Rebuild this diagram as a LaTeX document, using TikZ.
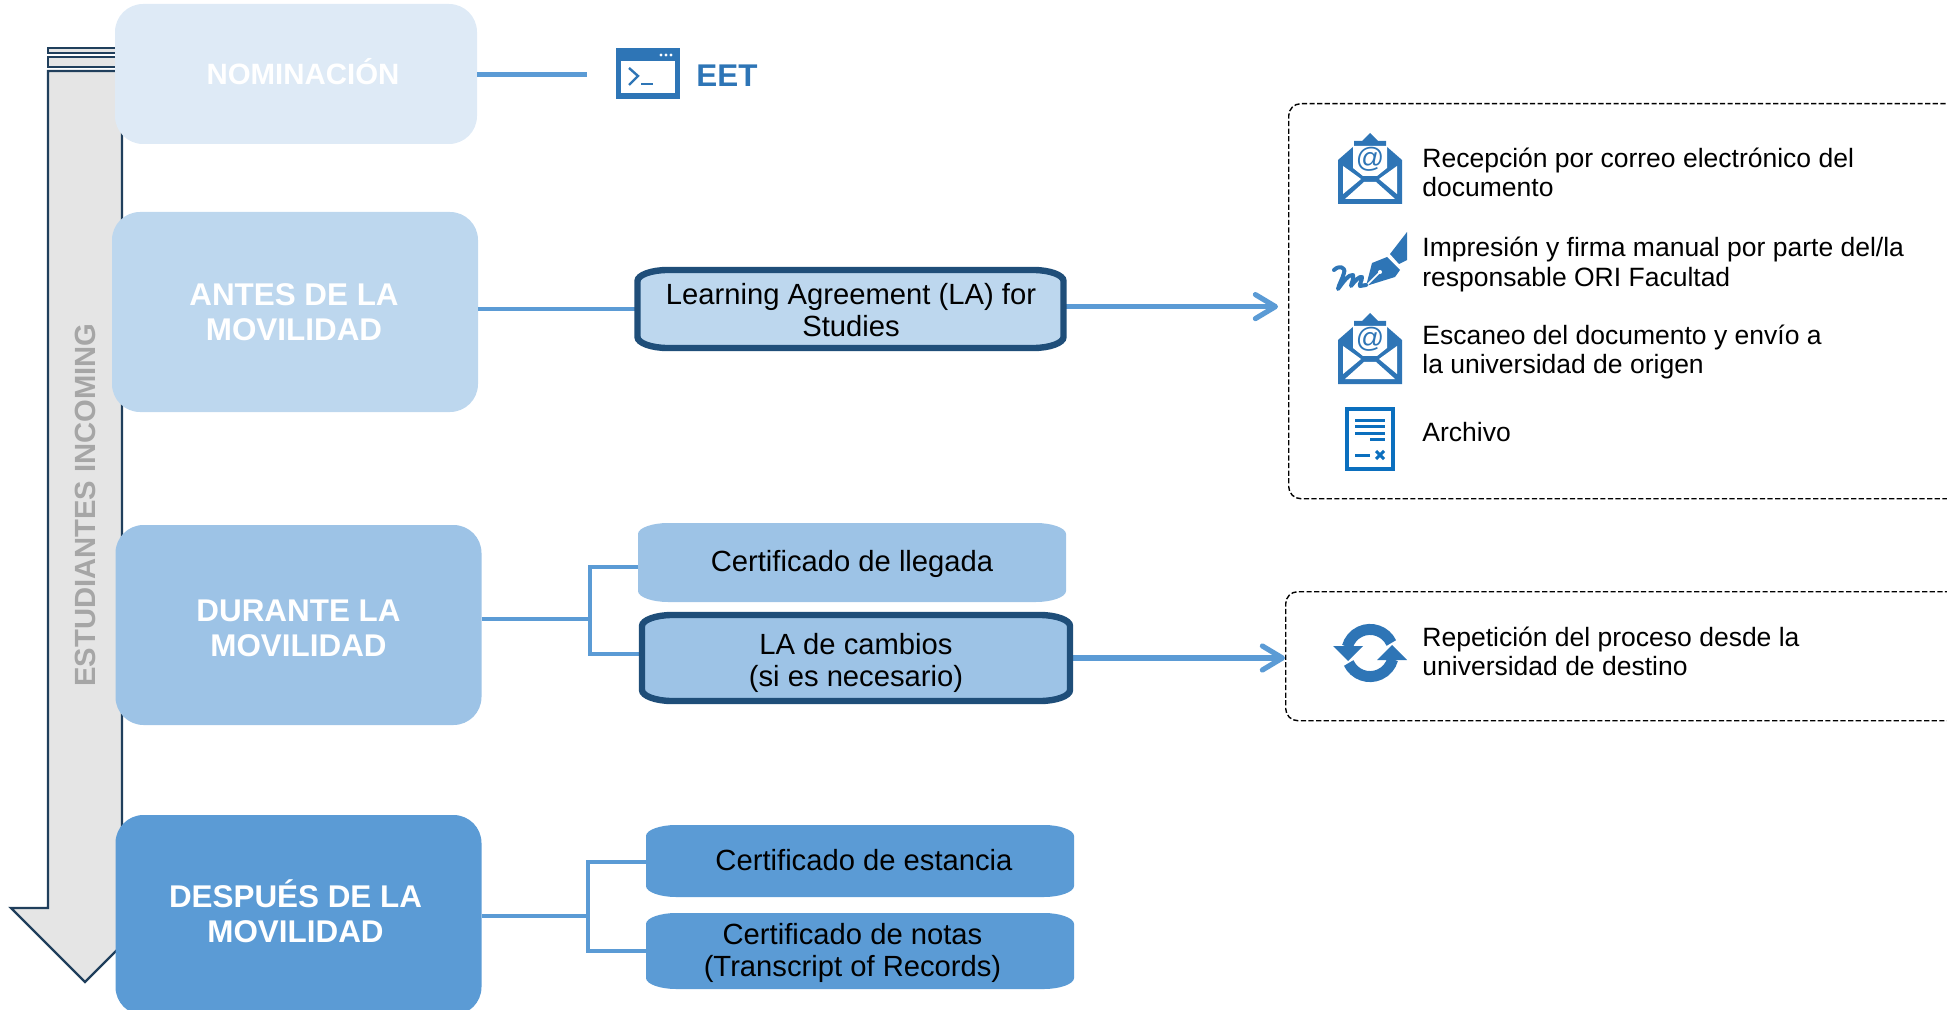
\documentclass[tikz,border=0pt]{standalone}
\usepackage{fontspec}
\setsansfont{Liberation Sans}
\usetikzlibrary{arrows.meta}
\definecolor{azulnom}{HTML}{DEEAF6}
\definecolor{azulantes}{HTML}{BDD7EE}
\definecolor{azuldur}{HTML}{9DC3E6}
\definecolor{azuldes}{HTML}{5B9BD5}
\definecolor{azulicono}{HTML}{2E75B6}
\definecolor{azularchivo}{HTML}{0B6FBE}
\definecolor{marino}{HTML}{1F4E79}
\definecolor{pizarra}{HTML}{203F5C}
\newcommand{\cajaoval}[2]{\path[#2] ([xshift=15pt]#1.north west) -- ([xshift=-15pt]#1.north east) .. controls +(16,0) and +(0,-6) .. ([yshift=-5.5pt]#1.north east) -- ([yshift=5.5pt]#1.south east) .. controls +(0,6) and +(16,0) .. ([xshift=-15pt]#1.south east) -- ([xshift=15pt]#1.south west) .. controls +(-16,0) and +(0,6) .. ([yshift=5.5pt]#1.south west) -- ([yshift=-5.5pt]#1.north west) .. controls +(0,-6) and +(-16,0) .. ([xshift=15pt]#1.north west) -- cycle;}
\tikzset{
    correo/.pic={
        \fill[azulicono] (32,0) -- (40,8) -- (48,8) -- (48,13) -- (64,27) -- (64,71) -- (0,71) -- (0,27) -- (16,13) -- (16,8) -- (24,8) -- cycle;
        \fill[white] (15,13) -- (49,13) -- (49,35) -- (39,43) -- (25,43) -- (15,35) -- cycle;
        \fill[white] (5,33) -- (23,46) -- (5,61) -- cycle;
        \fill[white] (59,33) -- (41,46) -- (59,61) -- cycle;
        \fill[white] (7,66) -- (26,49) -- (38,49) -- (57,66) -- cycle;
        \node[text=azulicono, font=\sffamily\fontsize{14}{14}\selectfont, inner sep=0pt] (-arroba) at (32,26) {@};
    },
    firma/.pic={
        \fill[azulicono] (74,0) -- (74,28) -- (66,32) -- (57,22) -- cycle;
        \fill[azulicono] (54,25) -- (67,38) -- (62,45) -- (33,54) -- (39,31) -- cycle;
        \draw[white, line width=0.8pt] (34,53) -- (47,40);
        \fill[white] (47,40) circle (2);
        \draw[azulicono, line width=2pt, line cap=round, line join=round] (1,38) .. controls (6,33) and (13,35) .. (11,41) .. controls (9,48) and (6,52) .. (5,57) .. controls (10,50) and (16,42) .. (20,43) .. controls (21,47) and (18,52) .. (18,54) .. controls (22,49) and (26,44) .. (29,45) .. controls (29,49) and (26,52) .. (27,54) -- (33,53);
    },
    archivo/.pic={
        \fill[azularchivo] (0,0) rectangle (50,64);
        \fill[white] (4,4) rectangle (46,60);
        \foreach \y in {13,19,26} \fill[azularchivo] (10,\y-1.5) rectangle (40,\y+1.5);
        \fill[azularchivo] (25,30.5) rectangle (40,33.5);
        \fill[azularchivo] (10,46.5) rectangle (25,49.5);
        \draw[azularchivo, line width=1.5pt] (31,44) -- (39,52) (39,44) -- (31,52);
    },
    repetir/.pic={
        \draw[azulicono, line width=5.5pt] (21.3,-10) arc[start angle=-25, end angle=-165, radius=23.5];
        \fill[azulicono] (-37,-7) -- (-7,-7) -- (-22,8) -- cycle;
        \draw[azulicono, line width=5.5pt] (-21.3,10) arc[start angle=155, end angle=15, radius=23.5];
        \fill[azulicono] (37,7) -- (7,7) -- (22,-8) -- cycle;
    }
}
\begin{document}
\begin{tikzpicture}[x=0.5pt, y=-0.5pt, font=\sffamily,
        etapa/.style={inner sep=0pt, outer sep=0pt, rounded corners=14pt, minimum width=183pt, minimum height=100pt},
        etapatxt/.style={inner sep=0pt, text=white, align=center, font=\sffamily\bfseries\fontsize{15.7}{17.5}\selectfont},
        caja/.style={inner sep=0pt, outer sep=0pt, minimum width=214pt},
        cajatxt/.style={inner sep=0pt, align=center, font=\sffamily\fontsize{14.6}{16}\selectfont},
        enlace/.style={draw=azuldes, line width=2pt},
        flecha/.style={draw=azuldes, line width=2.6pt, -{Straight Barb[length=10pt, width=12pt, line width=2.6pt, round]}},
        cuadro/.style={draw, line width=0.7pt, dash pattern=on 2.6pt off 1.2pt, rounded corners=6pt, inner sep=0pt},
        item/.style={inner sep=0pt, anchor=west, align=left, font=\sffamily\fontsize{13.25}{14.6}\selectfont}]
        \path[use as bounding box, clip] (0,0) rectangle (1947,1010);
        \draw[fill=gray!20, draw=pizarra, line width=1.2pt] (48,71) -- (122,71) -- (122,908) -- (159,908) -- (85,982) -- (11,908) -- (48,908) -- cycle;
        \draw[fill=gray!20, draw=pizarra, line width=1.2pt] (48,48) rectangle (122,53);
        \draw[fill=gray!20, draw=pizarra, line width=1.2pt] (48,57) rectangle (122,67);
        \node[rotate=90, text=gray!70, font=\sffamily\bfseries\fontsize{14.6}{16}\selectfont] (sentido) at (85,505) {ESTUDIANTES INCOMING};
        \node[etapa, fill=azulnom, minimum width=181pt, minimum height=70pt] (nominacion) at (296,74) {};
        \node[etapa, fill=azulantes] (antes) at (295,312) {};
        \node[etapa, fill=azuldur] (durante) at (298.5,625) {};
        \node[etapa, fill=azuldes] (despues) at (298.5,915) {};
        \node[etapatxt, font=\sffamily\bfseries\fontsize{14.7}{16}\selectfont] (nominaciontxt) at (303,71.5) {NOMINACIÓN};
        \node[etapatxt] (antestxt) at (294,312) {ANTES DE LA\\MOVILIDAD};
        \node[etapatxt] (durantetxt) at (298.5,628.7) {DURANTE LA\\MOVILIDAD};
        \node[etapatxt] (despuestxt) at (295.5,911.3) {DESPUÉS DE LA\\MOVILIDAD};
        \node[caja, minimum width=213pt, minimum height=39pt] (acuerdo) at (850.5,309) {};
        \node[caja, minimum height=39.5pt] (llegada) at (852,562.5) {};
        \node[caja, minimum height=43pt] (cambios) at (856,658) {};
        \node[caja, minimum height=36pt] (estancia) at (860,861) {};
        \node[caja, minimum height=38pt] (notas) at (860,951) {};
        \node[cuadro, minimum width=380pt, minimum height=197.5pt, anchor=north west] (pasos) at (1288,103) {};
        \node[cuadro, minimum width=380pt, minimum height=64.5pt, anchor=north west] (repeticion) at (1285,591) {};
        \coordinate (finnom) at (587,75);
        \coordinate (cruced) at (590,619);
        \coordinate (crucef) at (588,916);
        \draw[enlace, line width=2.5pt] (nominacion.east |- finnom) -- (finnom);
        \draw[enlace] (antes.east |- acuerdo.west) -- (acuerdo.west);
        \draw[enlace] (durante.east |- cruced) -- (cruced);
        \draw[enlace] ([yshift=-2.2pt]llegada.west) -| (cruced) |- ([yshift=2pt]cambios.west);
        \draw[enlace] (despues.east |- crucef) -- (crucef);
        \draw[enlace] ([yshift=-0.5pt]estancia.west) -| (crucef) |- (notas.west);
        \draw[flecha, shorten >=5pt] ([yshift=1.2pt]acuerdo.east) -- ([yshift=1.2pt]acuerdo.east -| pasos.west);
        \draw[flecha] (cambios.east) -- (cambios.east -| repeticion.west);
        \foreach \caja/\tono in {acuerdo/azulantes, cambios/azuldur} \cajaoval{\caja}{fill=\tono, draw=marino, line width=3.2pt};
        \foreach \caja/\tono in {llegada/azuldur, estancia/azuldes, notas/azuldes} \cajaoval{\caja}{fill=\tono};
        \node[cajatxt] (acuerdotxt) at (851,310.5) {Learning Agreement (LA) for\\Studies};
        \node[cajatxt] (llegadatxt) at (852,563.5) {Certificado de llegada};
        \node[cajatxt] (cambiostxt) at (856,662.7) {LA de cambios\\(si es necesario)};
        \node[cajatxt] (estanciatxt) at (864,860) {Certificado de estancia};
        \node[cajatxt] (notastxt) at (852.5,952.5) {Certificado de notas\\(Transcript of Records)};
        \fill[azulicono] (616,48) rectangle (680,99);
        \fill[white] (621,61) rectangle (675,93);
        \foreach \x in {661,666,671} \fill[white] (\x,55) circle (1.6);
        \draw[azulicono, line width=1.2pt] (629,68) -- (638,76) -- (629,85);
        \draw[azulicono, line width=1.2pt] (641,84) -- (653,84);
        \node[inner sep=0pt, anchor=west, text=azulicono, font=\sffamily\bfseries\fontsize{15.7}{17}\selectfont] (eet) at (696,76) {EET};
        \pic (correoa) at (1338,133) {correo};
        \pic (pluma) at (1333,232) {firma};
        \pic (correob) at (1338,313) {correo};
        \pic (archivado) at (1345,407) {archivo};
        \pic (ciclo) at (1370,653) {repetir};
        \node[item] (recepcion) at (1422,172) {Recepción por correo electrónico del\\documento};
        \node[item] (impresion) at (1422,264.5) {Impresión y firma manual por parte del/la\\responsable ORI Facultad};
        \node[item] (escaneo) at (1422,352) {Escaneo del documento y envío a\\la universidad de origen};
        \node[item] (archivotxt) at (1422,432.5) {Archivo};
        \node[item] (repiteme) at (1422,651.5) {Repetición del proceso desde la\\universidad de destino};
    \end{tikzpicture}
\end{document}
